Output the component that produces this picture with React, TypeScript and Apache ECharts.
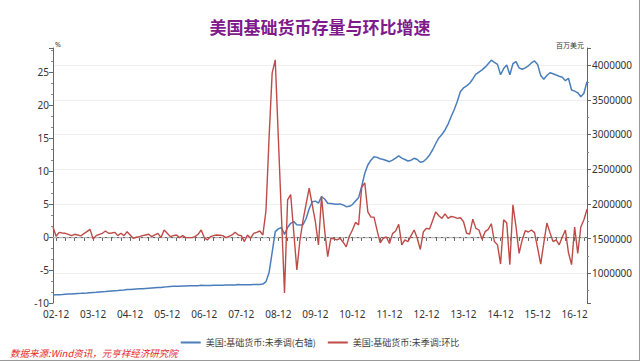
import React, { useEffect, useRef } from "react";
import * as echarts from "echarts";

// Monthly, 2002-11 .. 2017-04
const startYear = 2002;
const startMonth = 11;
const monthCount = 174;
const categories: string[] = [];
for (let k = 0; k < monthCount; k++) {
  const m0 = startMonth - 1 + k;
  const y = startYear + Math.floor(m0 / 12);
  const m = (m0 % 12) + 1;
  categories.push(String(y % 100).padStart(2, "0") + "-" + String(m).padStart(2, "0"));
}

// 美国:基础货币:未季调 (百万美元, in thousands of 百万美元 here)
const baseMoneyK = [
  687, 690, 692, 694, 697, 700, 703, 706, 709, 711, 714, 716,
  720, 724, 727, 731, 735, 738, 742, 746, 750, 753, 757, 760,
  765, 767, 770, 773, 776, 779, 782, 785, 788, 791, 794, 797,
  803, 806, 810, 812, 814, 815, 817, 818, 819, 820, 821, 822,
  826, 825, 824, 825, 826, 827, 828, 829, 830, 831, 832, 833,
  838, 836, 834, 835, 836, 837, 838, 840, 845, 880, 1010, 1300,
  1600, 1640, 1660, 1560, 1660, 1720, 1744, 1700, 1696, 1700, 1790, 1930,
  2030, 2040, 2010, 2104, 2070, 2009, 2005, 2000, 1995, 2000, 1985, 1960,
  1965, 1990, 2040, 2090, 2250, 2440, 2560, 2630, 2680, 2670, 2650, 2640,
  2625, 2608, 2630, 2660, 2690, 2660, 2640, 2618, 2630, 2657, 2640, 2600,
  2610, 2650, 2705, 2780, 2870, 2950, 3000, 3065, 3150, 3260, 3360, 3480,
  3620, 3670, 3700, 3738, 3800, 3870, 3900, 3930, 3970, 4020, 4070, 4040,
  4010, 3860, 3950, 4000, 3860, 4020, 4050, 3960, 3940, 3960, 3990, 4030,
  4060, 4010, 3850, 3795, 3850, 3890, 3875, 3857, 3840, 3824, 3775, 3810,
  3640, 3625, 3600, 3545, 3594, 3761,
];
const baseMoney = baseMoneyK.map((v) => v * 1000);

// 美国:基础货币:未季调:环比 (%)
const momGrowth = [
  1.5, 0.1, 0.7, 0.6, 0.55, 0.4, 0.2, 0.4, 0.3, 0.15, 0.5, 0.8,
  1.15, -0.3, 0.2, 0.4, 0.55, 0.9, 0.55, 0.6, 0.7, 0.2, 0.55, 0.2,
  0.8, 0.3, -0.2, -0.05, 0.05, 0.2, 0.3, 0.4, 0.05, 0.3, 0.55, -0.1,
  1.05, 0.55, 0.05, 0.2, 0.3, -0.1, 0.2, -0.1, -0.1, -0.1, 0.05, 0.4,
  1.05, -0.1, -0.45, 0.05, 0.2, 0.3, 0.25, 0.2, -0.1, 0.1, 0.3, 0.7,
  0.3, 0.2, -0.7, 0.3, -0.2, 0.55, 0.7, 0.9, 0.3, 4, 15, 24.8,
  26.8, 15, 3.3, -8.5, 5.6, 6.4, 0.7, -5, -0.5, 2.5, 5, 7.4,
  4.8, 2.3, -1.2, 6.1, 1, -3, -0.2, -0.3, -0.45, -0.2, -0.8, -1.5,
  0.1, 1.05, 2.2, 1.8, 7.5, 8.2, 3.8, 3, 3, 1, -0.9, -0.2,
  0, -1, 0.5, 0.9, 1.9, -1.2, -0.45, -0.7, 0.2, 1.05, -0.2, -1.9,
  0.8, 1.3, 1.2, 2.5, 3.8, 3.2, 2.8, 3.5, 2.8, 3.1, 3, 2.8,
  2.9, 2.3, 0.55, 0.45, 2.7, 1.3, 1.05, -0.35, 0.8, 1.15, 2, -0.7,
  -1.2, -4.1, 2.6, 2.1, -4.2, 4.85, 1.55, -2.5, -0.45, 0.95, 0.75, 1.05,
  0.65, -1.7, -4.1, -0.95, 2.1, 0.65, -0.7, -0.45, -1.2, 0, 1.05, -2.4,
  -4.2, 1.5, -2.5, 1.5, 2.6, 4.2,
];

const seriesNames = ["美国:基础货币:未季调(右轴)", "美国:基础货币:未季调:环比"];
const titleText = "美国基础货币存量与环比增速";
const sourceText = "数据来源:Wind资讯，元亨祥经济研究院";
const leftUnit = "%";
const rightUnit = "百万美元";

const FONT = "'Noto Sans', 'Noto Sans CJK SC', sans-serif";
const CJK = "'Noto Sans CJK SC', sans-serif";

export default function App() {
  const ref = useRef<HTMLDivElement>(null);
  useEffect(() => {
    document.body.style.margin = "0";
    const chart = echarts.init(ref.current!, null, { renderer: "svg" });
    chart.setOption({
      animation: false,
      backgroundColor: "#ffffff",
      textStyle: { fontFamily: FONT },
      title: {
        text: titleText,
        left: "center",
        top: 13,
        textStyle: { fontSize: 17, fontWeight: "bold", color: "#7e1a8c", fontFamily: CJK },
      },
      grid: { left: 53, right: 53, top: 48, bottom: 58, containLabel: false },
      legend: {
        data: seriesNames,
        top: 333,
        left: "center",
        icon: "rect",
        itemWidth: 20,
        itemHeight: 2,
        itemGap: 12,
        textStyle: { fontSize: 9, color: "#404040", fontFamily: CJK },
      },
      xAxis: {
        type: "category",
        data: categories,
        boundaryGap: false,
        axisLine: { lineStyle: { color: "#666", width: 1 } },
        axisTick: {
          show: true,
          length: 4,
          interval: (idx: number) => idx % 3 === 1,
          lineStyle: { color: "#666" },
        },
        axisLabel: {
          interval: (idx: number) => idx % 12 === 1,
          fontSize: 10,
          color: "#333",
          margin: 6,
        },
        splitLine: { show: false },
      },
      yAxis: [
        {
          type: "value",
          position: "left",
          min: -10,
          max: 28.6,
          splitNumber: 8,
          axisLine: { show: true, lineStyle: { color: "#666" } },
          axisTick: { show: true, length: 4, lineStyle: { color: "#666" } },
          minorTick: { show: true, splitNumber: 3, length: 2, lineStyle: { color: "#888" } },
          axisLabel: { fontSize: 10, color: "#333", margin: 4, showMaxLabel: false },
          splitLine: { show: false },
        },
        {
          type: "value",
          position: "right",
          min: 572000,
          max: 4246000,
          splitNumber: 7,
          axisLine: { show: true, lineStyle: { color: "#666" } },
          axisTick: { show: true, length: 4, lineStyle: { color: "#666" } },
          minorTick: { show: true, splitNumber: 2, length: 2, lineStyle: { color: "#888" } },
          axisLabel: {
            fontSize: 10,
            color: "#333",
            margin: 5,
            showMinLabel: false,
            showMaxLabel: false,
            formatter: (v: number) => String(Math.round(v)),
          },
          splitLine: {
            show: true,
            showMinLine: false,
            showMaxLine: false,
            lineStyle: { color: "#efefef", width: 1 },
          },
        },
      ],
      series: [
        {
          name: seriesNames[0],
          type: "line",
          yAxisIndex: 1,
          data: baseMoney,
          showSymbol: false,
          symbol: "none",
          lineStyle: { color: "#4a7ebb", width: 1.5 },
          itemStyle: { color: "#4a7ebb" },
        },
        {
          name: seriesNames[1],
          type: "line",
          yAxisIndex: 0,
          data: momGrowth,
          showSymbol: false,
          symbol: "none",
          lineStyle: { color: "#be4b48", width: 1.4 },
          itemStyle: { color: "#be4b48" },
          markLine: {
            silent: true,
            symbol: "none",
            label: { show: false },
            lineStyle: { type: "dashed", color: "#b8b8b8", width: 1 },
            data: [{ yAxis: 0 }],
            z: 1,
          },
        },
      ],
      graphic: [
        {
          type: "text",
          left: 55,
          top: 41,
          style: { text: leftUnit, fontSize: 7, fill: "#333", fontFamily: FONT },
        },
        {
          type: "text",
          right: 56,
          top: 41,
          style: { text: rightUnit, fontSize: 7, fill: "#333", fontFamily: CJK },
        },
        {
          type: "text",
          left: 10,
          top: 348,
          style: {
            text: sourceText,
            fontSize: 9.5,
            fontStyle: "italic",
            fill: "#e5262b",
            fontFamily: CJK,
          },
        },
        {
          type: "line",
          shape: { x1: 0, y1: 360.5, x2: 640, y2: 360.5 },
          style: { stroke: "#999", lineWidth: 1 },
        },
        {
          type: "line",
          shape: { x1: 639.5, y1: 0, x2: 639.5, y2: 361 },
          style: { stroke: "#999", lineWidth: 1 },
        },
      ],
    });
    return () => chart.dispose();
  }, []);
  return (
    <div
      ref={ref}
      style={{ position: "fixed", left: 0, top: 0, width: 640, height: 361, background: "#fff" }}
    />
  );
}
